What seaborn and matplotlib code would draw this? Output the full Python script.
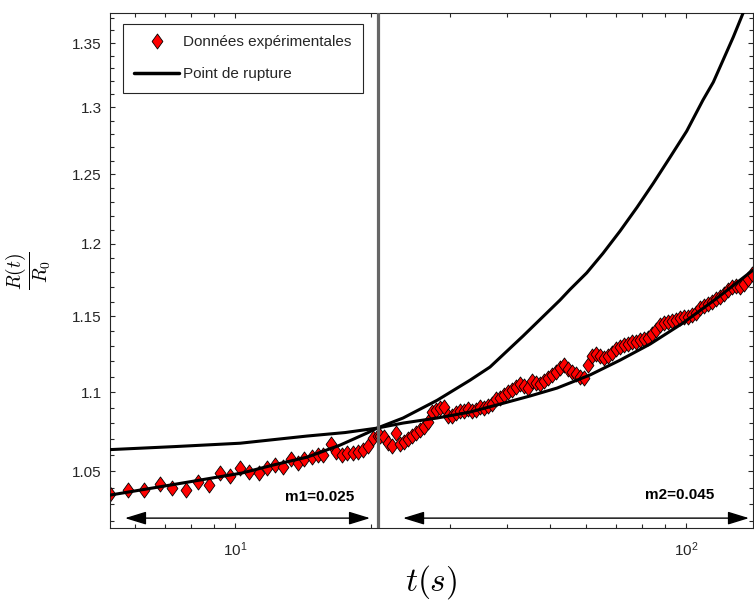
import matplotlib
matplotlib.use("Agg")
import matplotlib.pyplot as plt
import seaborn as sns
import pandas as pd
from matplotlib.path import Path
from matplotlib.lines import Line2D
from matplotlib.ticker import FixedLocator, FuncFormatter, NullFormatter, LogLocator

# ---------------- data ----------------
t_left = [5.28, 5.78, 6.28, 6.80, 7.26, 7.79, 8.29, 8.77, 9.26, 9.75, 10.26, 10.76,
          11.29, 11.76, 12.27, 12.80, 13.29, 13.77, 14.24, 14.79, 15.30, 15.70, 16.30,
          16.75, 17.24, 17.74, 18.29, 18.77, 19.25, 19.75, 20.26, 20.72]
v_left = [1.0359, 1.0385, 1.0385, 1.0422, 1.0396, 1.0384, 1.0436, 1.0414, 1.0488, 1.0471,
          1.0518, 1.0496, 1.0488, 1.0520, 1.0537, 1.0528, 1.0574, 1.0549, 1.0574, 1.0590,
          1.0601, 1.0599, 1.0669, 1.0621, 1.0599, 1.0611, 1.0611, 1.0618, 1.0632, 1.0657,
          1.0705, 1.0719]

t_right = [20.97, 21.40, 21.84, 22.29, 22.75, 23.22, 23.70, 24.19, 24.69, 25.20, 25.72,
           26.25, 26.79, 27.34, 27.91, 28.48, 29.07, 29.67, 30.28, 30.91, 31.54, 32.19,
           32.86, 33.54, 34.23, 34.93, 35.65, 36.39, 37.14, 37.91, 38.69, 39.49, 40.30,
           41.13, 41.98, 42.85, 43.73, 44.63, 45.55, 46.49, 47.45, 48.43, 49.43, 50.45,
           51.49, 52.55, 53.64, 54.74, 55.87, 57.02, 58.20, 59.40, 60.63, 61.88, 63.15,
           64.46, 65.79, 67.14, 68.53, 69.94, 71.38, 72.86, 74.36, 75.89, 77.46, 79.06,
           80.69, 82.36, 84.06, 85.79, 87.56, 89.37, 91.22, 93.10, 95.02, 96.98, 98.99,
           101.03, 103.12, 105.25, 107.42, 109.64, 111.90, 114.21, 116.57, 118.98,
           121.43, 123.94, 126.50, 129.11, 131.78, 134.50, 137.28, 140.11]
v_right = [1.0720, 1.0713, 1.0675, 1.0656, 1.0739, 1.0669, 1.0681, 1.0700, 1.0720, 1.0739,
           1.0758, 1.0777, 1.0808, 1.0872, 1.0885, 1.0897, 1.0904, 1.0846, 1.0846, 1.0866,
           1.0878, 1.0878, 1.0891, 1.0878, 1.0885, 1.0904, 1.0897, 1.0910, 1.0923, 1.0955,
           1.0962, 1.0981, 1.1000, 1.1013, 1.1033, 1.1052, 1.1039, 1.1026, 1.1072, 1.1059,
           1.1052, 1.1072, 1.1091, 1.1111, 1.1130, 1.1156, 1.1176, 1.1150, 1.1130, 1.1117,
           1.1098, 1.1091, 1.1176, 1.1235, 1.1248, 1.1235, 1.1222, 1.1235, 1.1255, 1.1281,
           1.1294, 1.1308, 1.1314, 1.1328, 1.1328, 1.1341, 1.1348, 1.1354, 1.1381, 1.1408,
           1.1441, 1.1455, 1.1461, 1.1468, 1.1475, 1.1488, 1.1495, 1.1495, 1.1508, 1.1522,
           1.1556, 1.1569, 1.1583, 1.1596, 1.1617, 1.1630, 1.1651, 1.1678, 1.1699, 1.1706,
           1.1699, 1.1719, 1.1754, 1.1788]

# fit of the first regime (m1), extended over the whole range
fit1_t = [5.28, 7.18, 10.36, 12.14, 14.44, 17.09, 19.62, 20.65, 23.58, 28.05, 33.19,
          36.76, 43.52, 52.55, 55.32, 60.23, 65.45, 71.41, 77.86, 84.63, 92.15, 100.36,
          109.06, 114.98, 120.8, 127.33, 133.8, 141.0]
fit1_v = [1.0355, 1.0416, 1.0490, 1.0539, 1.0588, 1.0663, 1.0739, 1.0770, 1.0834, 1.0947,
          1.1077, 1.1163, 1.1368, 1.1610, 1.1683, 1.1797, 1.1933, 1.2090, 1.2259, 1.2434,
          1.2624, 1.2820, 1.3056, 1.3194, 1.3364, 1.3548, 1.3738, 1.393]
# fit of the second regime (m2), extended over the whole range
fit2_t = [5.28, 7.36, 10.26, 14.44, 17.54, 20.65, 23.58, 28.05, 33.19, 39.29, 45.10,
          51.76, 61.25, 71.41, 83.22, 98.48, 117.1, 140.8]
fit2_v = [1.0635, 1.0654, 1.0675, 1.0720, 1.0742, 1.0770, 1.0802, 1.0834, 1.0872, 1.0928,
          1.0975, 1.1026, 1.1111, 1.1208, 1.1314, 1.1455, 1.1623, 1.1816]

t_rupture = 20.7
m_labels = ["m1=0.025", "m2=0.045"]
m_label_t = [15.4, 97.0]
m_label_v = [1.0343, 1.0355]
arrow_start = [5.70, 23.58]
arrow_end = [19.92, 137.95]
arrow_v = 1.0216
legend_labels = ["Données expérimentales", "Point de rupture"]
y_major = [1.05, 1.1, 1.15, 1.2, 1.25, 1.3, 1.35]
y_minor = [1.02, 1.03, 1.04, 1.06, 1.07, 1.08, 1.09, 1.11, 1.12, 1.13, 1.14, 1.16, 1.17,
           1.18, 1.19, 1.21, 1.22, 1.23, 1.24, 1.26, 1.27, 1.28, 1.29, 1.31, 1.32, 1.33,
           1.34, 1.36, 1.37]
x_lim = (5.28, 140.8)
y_lim = (1.0157, 1.374)

# ---------------- styling ----------------
sns.set_theme(style="ticks")
plt.rcParams['font.family'] = ['Liberation Sans', 'DejaVu Sans']
axcol = '#262626'

fig = plt.figure(figsize=(7.54, 6.0), dpi=100)
ax = fig.add_axes([110 / 754, 72 / 600, 643 / 754, 515 / 600])
ax.set_xscale('log')
ax.set_yscale('log')

diamond = Path([(0, 1), (0.72, 0), (0, -1), (-0.72, 0), (0, 1)],
               [Path.MOVETO, Path.LINETO, Path.LINETO, Path.LINETO, Path.CLOSEPOLY])

data = pd.DataFrame({"t": t_left + t_right, "v": v_left + v_right})
sns.scatterplot(data=data, x="t", y="v", marker=diamond, s=118, color="#ff0000",
                edgecolor="black", linewidth=0.6, ax=ax, zorder=2)

fit1 = pd.DataFrame({"t": fit1_t, "v": fit1_v})
fit2 = pd.DataFrame({"t": fit2_t, "v": fit2_v})
sns.lineplot(data=fit1, x="t", y="v", sort=False, estimator=None, color="black",
             lw=2.2, ax=ax, zorder=3)
sns.lineplot(data=fit2, x="t", y="v", sort=False, estimator=None, color="black",
             lw=2.2, ax=ax, zorder=3)

ax.axvline(t_rupture, color='#666666', lw=2.3, zorder=4)

for a0, a1 in zip(arrow_start, arrow_end):
    ax.annotate('', xy=(a1, arrow_v), xytext=(a0, arrow_v),
                arrowprops=dict(arrowstyle='<|-|>,head_length=0.65,head_width=0.2',
                                color='black', lw=1.0, shrinkA=0, shrinkB=0,
                                mutation_scale=20))
for lab, tx, ty in zip(m_labels, m_label_t, m_label_v):
    ax.text(tx, ty, lab, ha='center', va='center', fontsize=11, fontweight='bold',
            color='black')

ax.set_xlim(*x_lim)
ax.set_ylim(*y_lim)

ax.yaxis.set_major_locator(FixedLocator(y_major))
ax.yaxis.set_major_formatter(FuncFormatter(lambda v, p: f"{v:g}"))
ax.yaxis.set_minor_locator(FixedLocator(y_minor))
ax.yaxis.set_minor_formatter(NullFormatter())
ax.xaxis.set_major_locator(LogLocator(base=10))
ax.xaxis.set_minor_locator(LogLocator(base=10, subs=range(2, 10)))
ax.xaxis.set_minor_formatter(NullFormatter())

ax.tick_params(which='both', direction='in', top=True, right=True, colors=axcol,
               labelsize=11, width=0.8)
ax.tick_params(which='major', length=3.8)
ax.tick_params(which='minor', length=2.8)
ax.tick_params(axis='y', which='major', pad=6)
ax.tick_params(axis='x', which='major', pad=9)
for s in ax.spines.values():
    s.set_color(axcol)
    s.set_linewidth(0.8)

ax.set_xlabel(r'$t(s)$', fontsize=24, math_fontfamily='cm', color='black')
ax.xaxis.set_label_coords(0.5, -0.068)
ax.set_ylabel(r'$\dfrac{R(t)}{R_0}$', fontsize=14, math_fontfamily='cm', color='black')
ax.yaxis.set_label_coords(-0.088, 0.5)

h1 = Line2D([], [], ls='none', marker=diamond, ms=10.8, mfc='#ff0000', mec='black', mew=0.6)
h2 = Line2D([], [], color='black', lw=2.5)
leg = ax.legend([h1, h2], legend_labels, loc='upper left',
                bbox_to_anchor=(13 / 643, 504 / 515), borderaxespad=0, frameon=True,
                fancybox=False, edgecolor=axcol, framealpha=1, fontsize=11,
                handlelength=2.9, handletextpad=0.3, labelspacing=1.18, borderpad=0.75)
leg.get_frame().set_linewidth(0.8)

fig.savefig("out.png", dpi=100)
